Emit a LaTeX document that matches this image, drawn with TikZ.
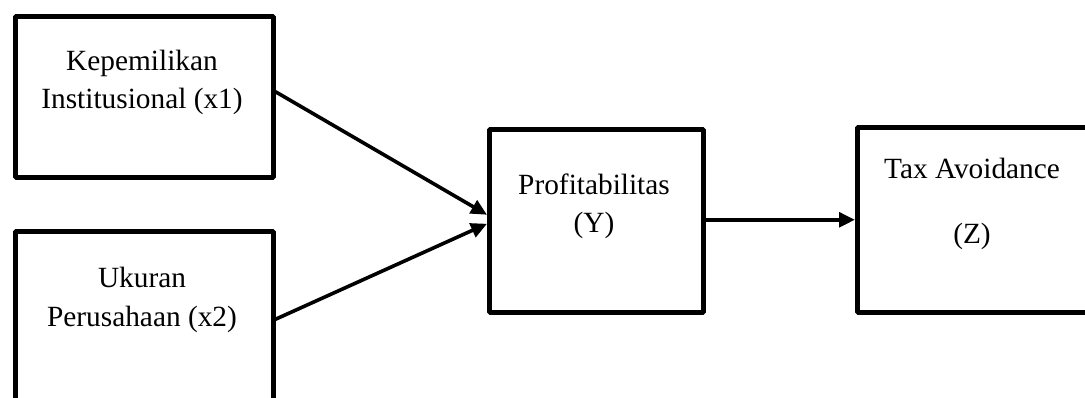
\documentclass[tikz,border=0pt]{standalone}
\usepackage{fontspec}
\setmainfont{Liberation Serif}
\usetikzlibrary{arrows.meta,calc}
\begin{document}
\begin{tikzpicture}[x=0.75pt,y=-0.75pt,
  varbox/.style={draw=black,line width=3.4pt,miter limit=1,inner sep=0pt,anchor=north west},
  lbl/.style={anchor=base,inner sep=0pt,font=\fontsize{22}{26}\selectfont},
  flow/.style={line width=2.7pt,-{Triangle[length=12pt,width=11pt]}}]
\useasboundingbox (0,0) rectangle (1085,398);
% variable boxes
\node[varbox,minimum width=258*0.75pt,minimum height=161*0.75pt] (x1) at (13,14) {};
\node[varbox,minimum width=258*0.75pt,minimum height=176*0.75pt] (x2) at (13,229) {};
\node[varbox,minimum width=214*0.75pt,minimum height=183*0.75pt] (y) at (487,127) {};
\node[varbox,minimum width=240*0.75pt,minimum height=185*0.75pt] (z) at (855,125) {};
% labels
\node[lbl] (t1a) at (142,71) {Kepemilikan};
\node[lbl] (t1b) at (142,109) {Institusional (x1)};
\node[lbl] (t2a) at (142,288) {Ukuran};
\node[lbl] (t2b) at (142,327) {Perusahaan (x2)};
\node[lbl] (t3a) at (594,195) {Profitabilitas};
\node[lbl] (t3b) at (594,233) {(Y)};
\node[lbl] (t4a) at (972,179) {Tax Avoidance};
\node[lbl] (t4b) at (972,244) {(Z)};
% connectors
\draw[flow] ($(x1.east)+(0,-5)$) -- ($(y.west)+(0,-6)$);
\draw[flow] (x2.east) -- ($(y.west)+(0,3)$);
\draw[flow] ($(y.east)+(0,-1)$) -- ($(z.west)+(0,0)$);
\end{tikzpicture}
\end{document}
